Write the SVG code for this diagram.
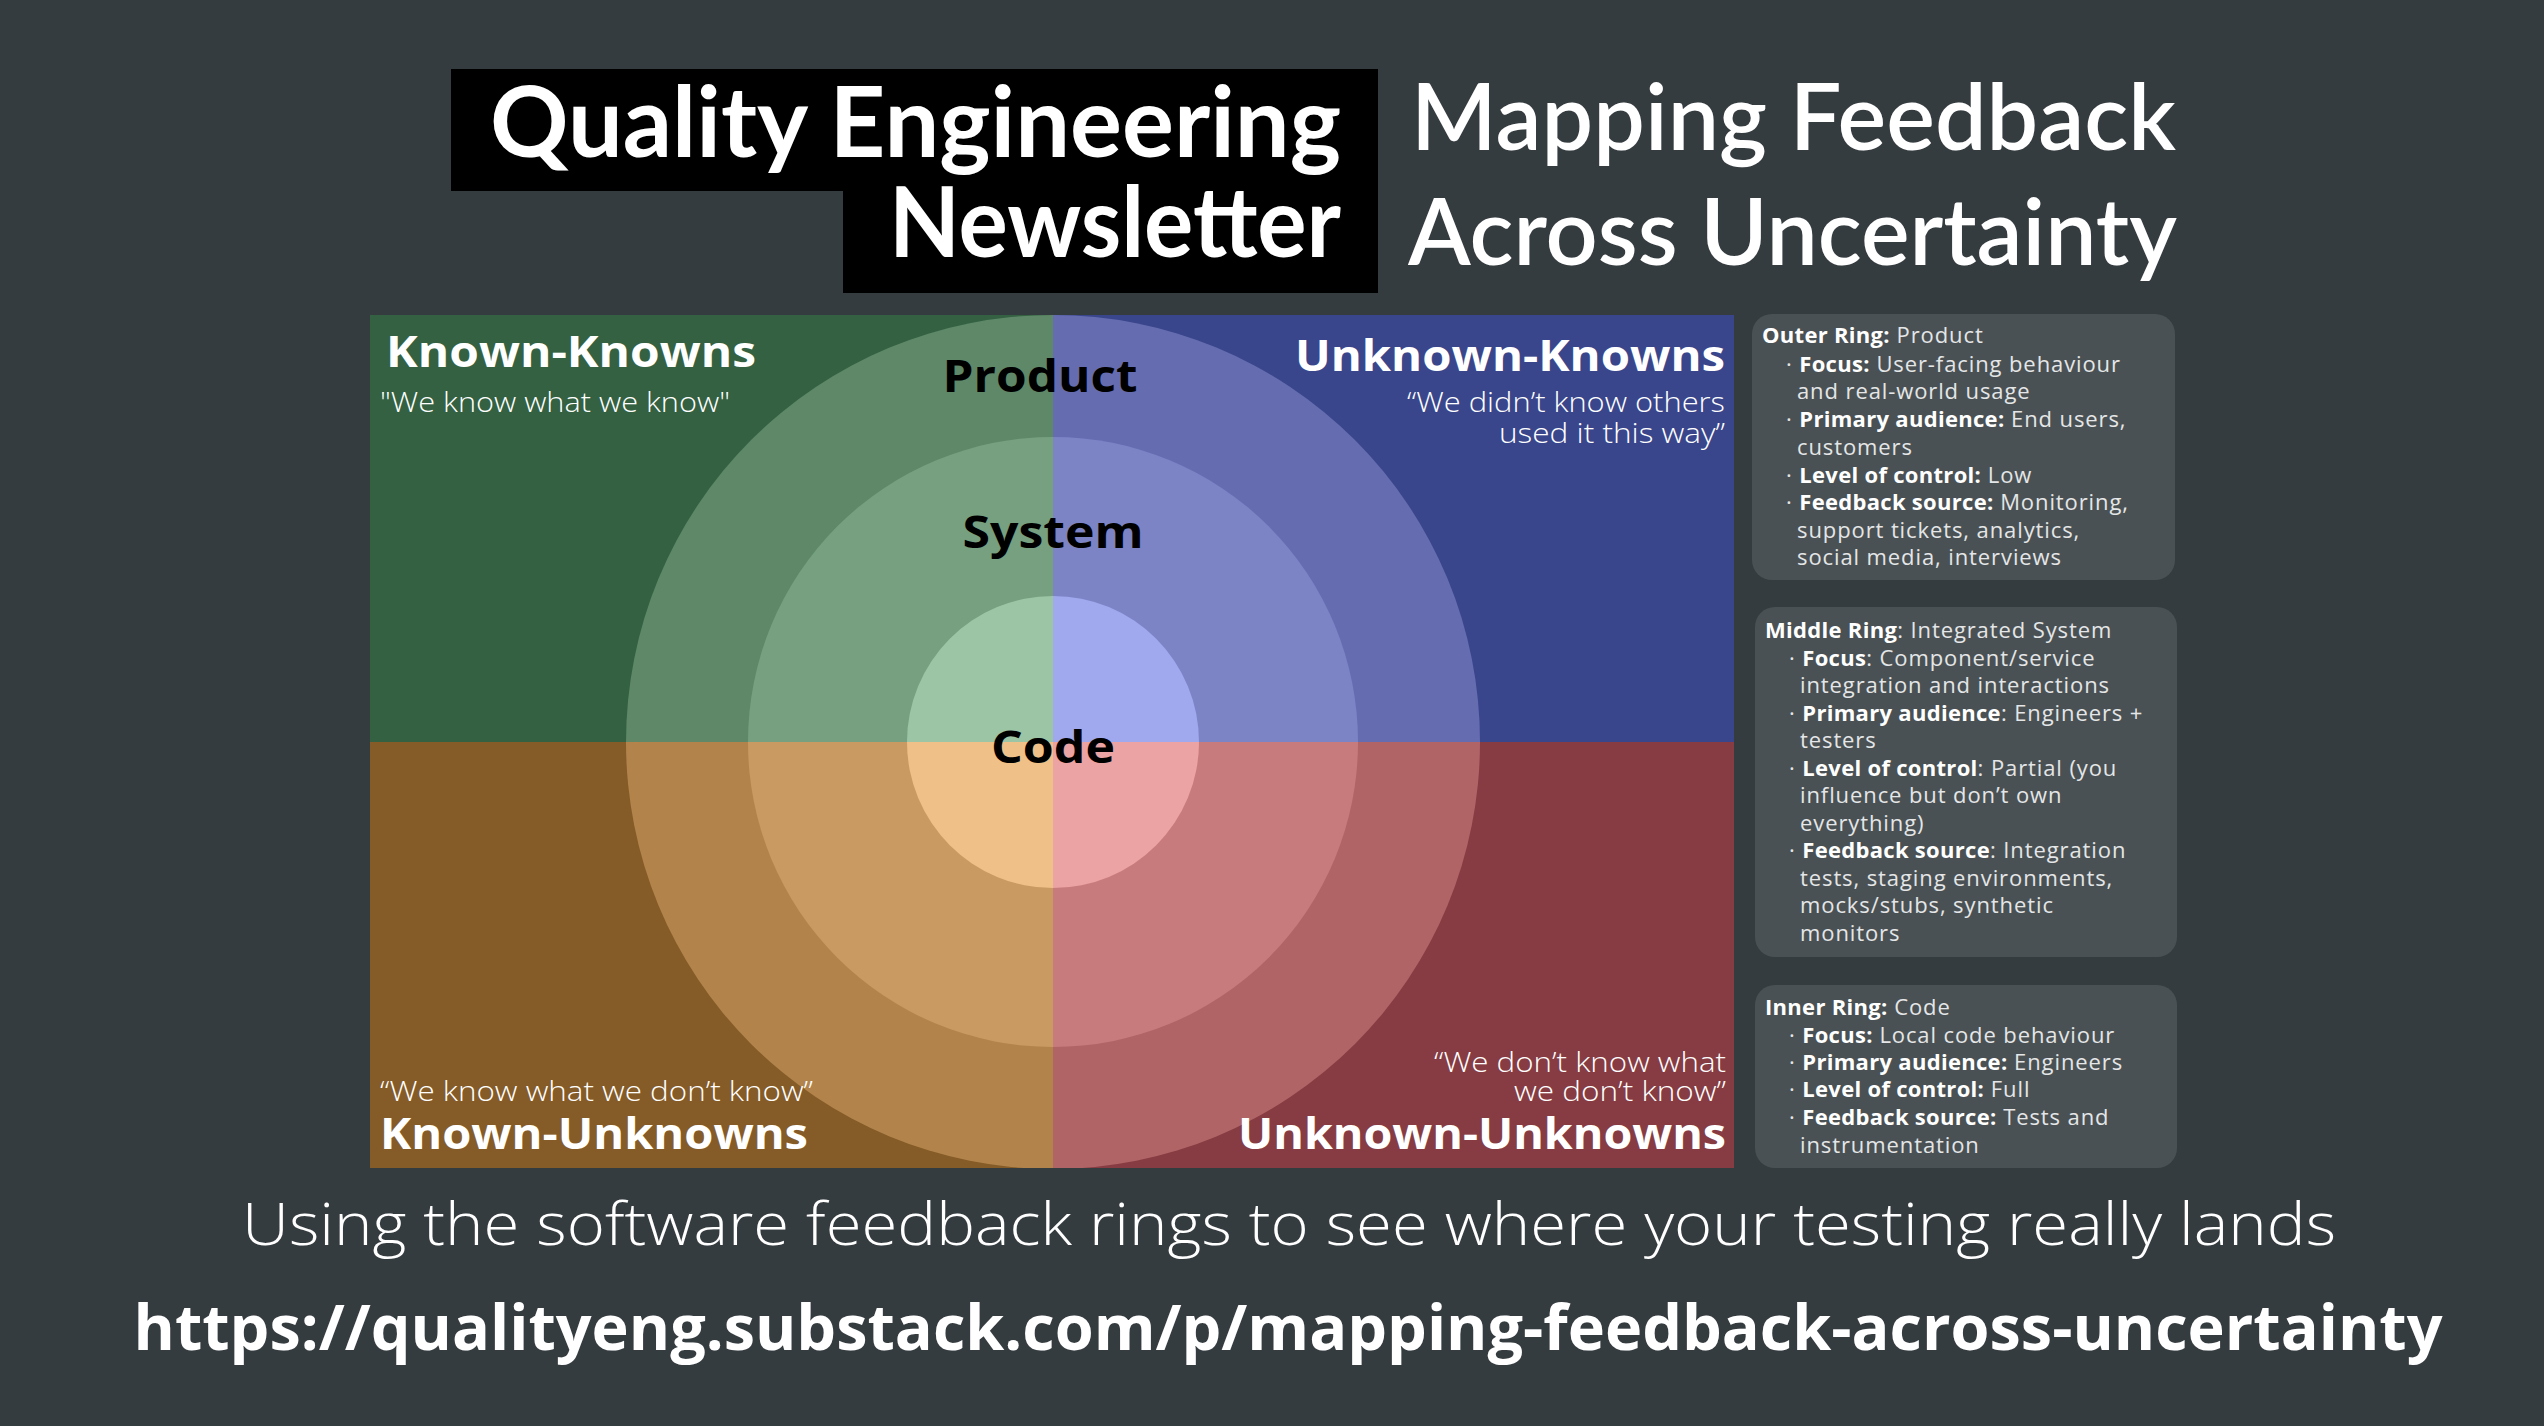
<svg xmlns="http://www.w3.org/2000/svg" width="2544" height="1426" viewBox="0 0 2544 1426">
  <defs>
    <style>
      .bg { fill: #353c40; }
      .panel { fill: #4a5154; }
      .title { font-family: Lato, "Open Sans", sans-serif; fill: #ffffff; }
      .qlabel { font-family: "Open Sans", "Liberation Sans", sans-serif; font-weight: 700; font-size: 43px; fill: #ffffff; }
      .quote { font-family: "Open Sans", "Liberation Sans", sans-serif; font-weight: 300; font-size: 27px; fill: #ffffff; }
      .ring { font-family: "Open Sans", "Liberation Sans", sans-serif; font-weight: 700; font-size: 45px; fill: #000000; text-anchor: middle; }
      .info { font-family: "Open Sans", "Liberation Sans", sans-serif; font-size: 22px; letter-spacing: 0.9px; fill: #e4e6e7; }
      .info .b { font-weight: 700; fill: #ffffff; letter-spacing: 0.3px; }
      .sub { font-family: "Open Sans", "Liberation Sans", sans-serif; font-weight: 300; font-size: 58px; fill: #ffffff; text-anchor: middle; }
      .url { font-family: "Open Sans", "Liberation Sans", sans-serif; font-weight: 700; font-size: 62px; fill: #ffffff; text-anchor: middle; }
    </style>
    <clipPath id="cTL"><rect x="370" y="315" width="683" height="427"/></clipPath>
    <clipPath id="cTR"><rect x="1053" y="315" width="681" height="427"/></clipPath>
    <clipPath id="cBL"><rect x="370" y="742" width="683" height="426"/></clipPath>
    <clipPath id="cBR"><rect x="1053" y="742" width="681" height="426"/></clipPath>
  </defs>

  <rect class="bg" x="0" y="0" width="2544" height="1426"/>

  <g id="header">
    <path d="M451,69 H1378 V293 H843 V191 H451 Z" fill="#000000"/>
    <text class="title" x="1341" y="157" font-size="98" font-weight="700" text-anchor="end" textLength="851" lengthAdjust="spacingAndGlyphs">Quality Engineering</text>
    <text class="title" x="1341" y="257" font-size="98" font-weight="700" text-anchor="end" textLength="452" lengthAdjust="spacingAndGlyphs">Newsletter</text>
    <text class="title" x="1411" y="150" font-size="92" font-weight="600" textLength="765" lengthAdjust="spacingAndGlyphs">Mapping Feedback</text>
    <text class="title" x="1408" y="265" font-size="92" font-weight="600" textLength="769" lengthAdjust="spacingAndGlyphs">Across Uncertainty</text>
  </g>

  <g id="quadrant-known-knowns">
    <g clip-path="url(#cTL)">
      <rect x="370" y="315" width="683" height="427" fill="#336142"/>
      <circle cx="1053" cy="742" r="427" fill="#5e8868"/>
      <circle cx="1053" cy="742" r="305" fill="#76a080"/>
      <circle cx="1053" cy="742" r="146" fill="#9cc5a6"/>
    </g>
    <text class="qlabel" x="386" y="367" textLength="370" lengthAdjust="spacingAndGlyphs">Known-Knowns</text>
    <text class="quote" x="380" y="412" textLength="350" lengthAdjust="spacingAndGlyphs">"We know what we know"</text>
  </g>

  <g id="quadrant-unknown-knowns">
    <g clip-path="url(#cTR)">
      <rect x="1053" y="315" width="681" height="427" fill="#3a468c"/>
      <circle cx="1053" cy="742" r="427" fill="#656db0"/>
      <circle cx="1053" cy="742" r="305" fill="#7c84c6"/>
      <circle cx="1053" cy="742" r="146" fill="#a0a9ee"/>
    </g>
    <text class="qlabel" x="1725" y="371" text-anchor="end" textLength="430" lengthAdjust="spacingAndGlyphs">Unknown-Knowns</text>
    <text class="quote" x="1725" y="412" text-anchor="end" textLength="318" lengthAdjust="spacingAndGlyphs">“We didn’t know others</text>
    <text class="quote" x="1725" y="443" text-anchor="end" textLength="226" lengthAdjust="spacingAndGlyphs">used it this way”</text>
  </g>

  <g id="quadrant-known-unknowns">
    <g clip-path="url(#cBL)">
      <rect x="370" y="742" width="683" height="426" fill="#855b27"/>
      <circle cx="1053" cy="742" r="427" fill="#b2844c"/>
      <circle cx="1053" cy="742" r="305" fill="#c99a62"/>
      <circle cx="1053" cy="742" r="146" fill="#efc088"/>
    </g>
    <text class="quote" x="380" y="1101" textLength="433" lengthAdjust="spacingAndGlyphs">“We know what we don’t know”</text>
    <text class="qlabel" x="380" y="1149" textLength="428" lengthAdjust="spacingAndGlyphs">Known-Unknowns</text>
  </g>

  <g id="quadrant-unknown-unknowns">
    <g clip-path="url(#cBR)">
      <rect x="1053" y="742" width="681" height="426" fill="#863c42"/>
      <circle cx="1053" cy="742" r="427" fill="#b06466"/>
      <circle cx="1053" cy="742" r="305" fill="#c77b7d"/>
      <circle cx="1053" cy="742" r="146" fill="#eca3a3"/>
    </g>
    <text class="quote" x="1726" y="1072" text-anchor="end" textLength="292" lengthAdjust="spacingAndGlyphs">“We don’t know what</text>
    <text class="quote" x="1726" y="1101" text-anchor="end" textLength="212" lengthAdjust="spacingAndGlyphs">we don’t know”</text>
    <text class="qlabel" x="1726" y="1149" text-anchor="end" textLength="488" lengthAdjust="spacingAndGlyphs">Unknown-Unknowns</text>
  </g>

  <g id="ring-labels">
    <text class="ring" x="1040" y="392" textLength="195" lengthAdjust="spacingAndGlyphs">Product</text>
    <text class="ring" x="1053" y="548" textLength="181" lengthAdjust="spacingAndGlyphs">System</text>
    <text class="ring" x="1053" y="763" textLength="124" lengthAdjust="spacingAndGlyphs">Code</text>
  </g>

  <g id="panel-outer">
    <rect class="panel" x="1752" y="314" width="423" height="266" rx="20"/>
    <text class="info" x="1762" y="343"><tspan class="b">Outer Ring:</tspan> Product</text>
    <text class="info" x="1786" y="372">· <tspan class="b">Focus:</tspan> User-facing behaviour</text>
    <text class="info" x="1797" y="399">and real-world usage</text>
    <text class="info" x="1786" y="427">· <tspan class="b">Primary audience:</tspan> End users,</text>
    <text class="info" x="1797" y="455">customers</text>
    <text class="info" x="1786" y="483">· <tspan class="b">Level of control:</tspan> Low</text>
    <text class="info" x="1786" y="510">· <tspan class="b">Feedback source:</tspan> Monitoring,</text>
    <text class="info" x="1797" y="538">support tickets, analytics,</text>
    <text class="info" x="1797" y="565">social media, interviews</text>
  </g>

  <g id="panel-middle">
    <rect class="panel" x="1755" y="607" width="422" height="350" rx="20"/>
    <text class="info" x="1765" y="638"><tspan class="b">Middle Ring</tspan>: Integrated System</text>
    <text class="info" x="1789" y="666">· <tspan class="b">Focus</tspan>: Component/service</text>
    <text class="info" x="1800" y="693">integration and interactions</text>
    <text class="info" x="1789" y="721">· <tspan class="b">Primary audience</tspan>: Engineers +</text>
    <text class="info" x="1800" y="748">testers</text>
    <text class="info" x="1789" y="776">· <tspan class="b">Level of control</tspan>: Partial (you</text>
    <text class="info" x="1800" y="803">influence but don’t own</text>
    <text class="info" x="1800" y="831">everything)</text>
    <text class="info" x="1789" y="858">· <tspan class="b">Feedback source</tspan>: Integration</text>
    <text class="info" x="1800" y="886">tests, staging environments,</text>
    <text class="info" x="1800" y="913">mocks/stubs, synthetic</text>
    <text class="info" x="1800" y="941">monitors</text>
  </g>

  <g id="panel-inner">
    <rect class="panel" x="1755" y="985" width="422" height="183" rx="20"/>
    <text class="info" x="1765" y="1015"><tspan class="b">Inner Ring:</tspan> Code</text>
    <text class="info" x="1789" y="1043">· <tspan class="b">Focus:</tspan> Local code behaviour</text>
    <text class="info" x="1789" y="1070">· <tspan class="b">Primary audience:</tspan> Engineers</text>
    <text class="info" x="1789" y="1097">· <tspan class="b">Level of control:</tspan> Full</text>
    <text class="info" x="1789" y="1125">· <tspan class="b">Feedback source:</tspan> Tests and</text>
    <text class="info" x="1800" y="1153">instrumentation</text>
  </g>

  <g id="footer">
    <text class="sub" x="1289" y="1245" textLength="2094" lengthAdjust="spacingAndGlyphs">Using the software feedback rings to see where your testing really lands</text>
    <text class="url" x="1288" y="1350" textLength="2309" lengthAdjust="spacingAndGlyphs">https://qualityeng.substack.com/p/mapping-feedback-across-uncertainty</text>
  </g>
</svg>
